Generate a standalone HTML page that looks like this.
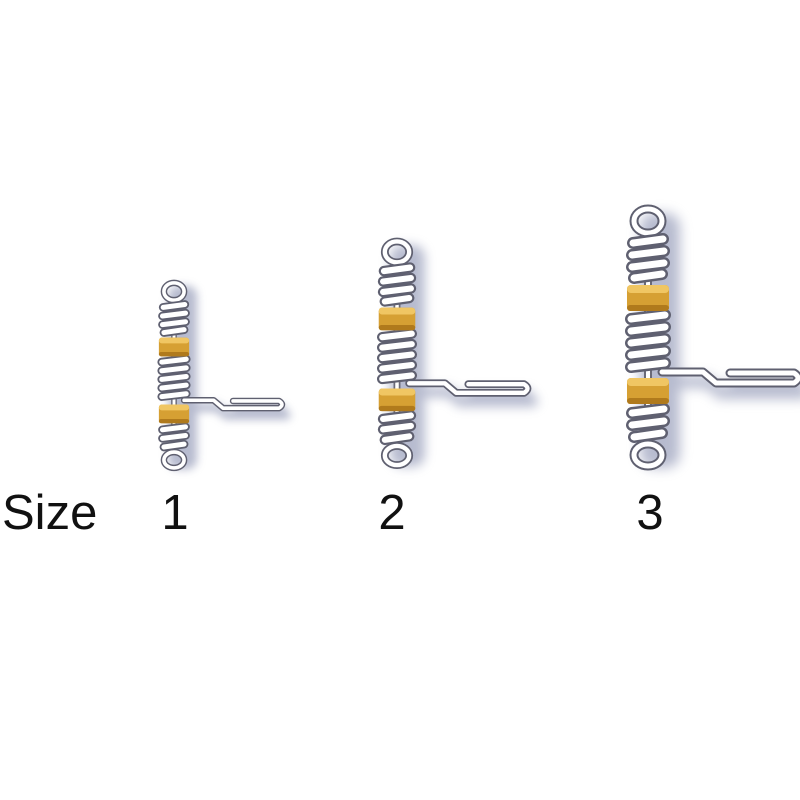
<!DOCTYPE html>
<html><head><style>
html,body{margin:0;padding:0;background:#fff;}
svg{display:block}
text{font-family:"Liberation Sans",sans-serif;font-size:49px;fill:#111}
</style></head><body>
<svg width="800" height="800" viewBox="0 0 800 800" xmlns="http://www.w3.org/2000/svg">
<defs>
<filter id="bl" x="-50%" y="-50%" width="200%" height="200%"><feGaussianBlur stdDeviation="6"/></filter>
<g id="swivel">
  <g filter="url(#bl)" opacity="0.55" fill="#7d84a8" stroke="#7d84a8" stroke-width="12" stroke-linecap="round">
    <rect x="-8" y="8" width="40" height="255" rx="14" stroke="none"/>
    <path d="M22 177 H60 L73 188 H156 M150 180 H86" fill="none"/>
  </g>
  <line x1="0" y1="28" x2="0" y2="240" stroke="#6a6a78" stroke-width="8"/>
  <line x1="0" y1="28" x2="0" y2="240" stroke="#fff" stroke-width="4"/>
  <path d="M14 167 H55 L68 178 H146 Q154 173 146 168 H82" fill="none" stroke="#5f6070" stroke-width="9" stroke-linejoin="round" stroke-linecap="round"/>
  <path d="M14 167 H55 L68 178 H146 Q154 173 146 168 H82" fill="none" stroke="#fff" stroke-width="5" stroke-linejoin="round" stroke-linecap="round"/>
  <g fill="none" stroke-linecap="round">
    <ellipse cx="0" cy="16" rx="14" ry="12" stroke="#5f6070" stroke-width="9"/>
    <ellipse cx="0" cy="16" rx="14" ry="12" stroke="#fff" stroke-width="5"/>
    <ellipse cx="0" cy="250" rx="14" ry="11" stroke="#5f6070" stroke-width="9"/>
    <ellipse cx="0" cy="250" rx="14" ry="11" stroke="#fff" stroke-width="5"/>
  </g>
  <g stroke-linecap="round" fill="none">
    <path d="M-15 38 L15 34 M-16 50 L16 46 M-16 62 L16 58 M-14 73 L14 69
             M-17 114 L17 110 M-17 126 L17 122 M-17 138 L17 134 M-17 150 L17 146 M-17 162 L17 158
             M-16 208 L16 204 M-16 220 L16 216 M-14 232 L14 228" stroke="#5f6070" stroke-width="12"/>
    <path d="M-15 38 L15 34 M-16 50 L16 46 M-16 62 L16 58 M-14 73 L14 69
             M-17 114 L17 110 M-17 126 L17 122 M-17 138 L17 134 M-17 150 L17 146 M-17 162 L17 158
             M-16 208 L16 204 M-16 220 L16 216 M-14 232 L14 228" stroke="#fff" stroke-width="7"/>
  </g>
  <g>
    <rect x="-21" y="80" width="42" height="26" rx="4" fill="#d6a033"/>
    <rect x="-21" y="80" width="42" height="8" rx="4" fill="#f0c663"/>
    <rect x="-21" y="100" width="42" height="6" rx="3" fill="#b07a1c"/>
    <rect x="-21" y="173" width="42" height="26" rx="4" fill="#d6a033"/>
    <rect x="-21" y="173" width="42" height="8" rx="4" fill="#f0c663"/>
    <rect x="-21" y="193" width="42" height="6" rx="3" fill="#b07a1c"/>
  </g>
</g>
</defs>
<use href="#swivel" transform="translate(174,280) scale(0.72)"/>
<use href="#swivel" transform="translate(397,238) scale(0.87)"/>
<use href="#swivel" transform="translate(648,205)"/>
<text x="2" y="529">Size</text>
<text x="175" y="529" text-anchor="middle">1</text>
<text x="392" y="529" text-anchor="middle">2</text>
<text x="650" y="529" text-anchor="middle">3</text>
</svg>
</body></html>
